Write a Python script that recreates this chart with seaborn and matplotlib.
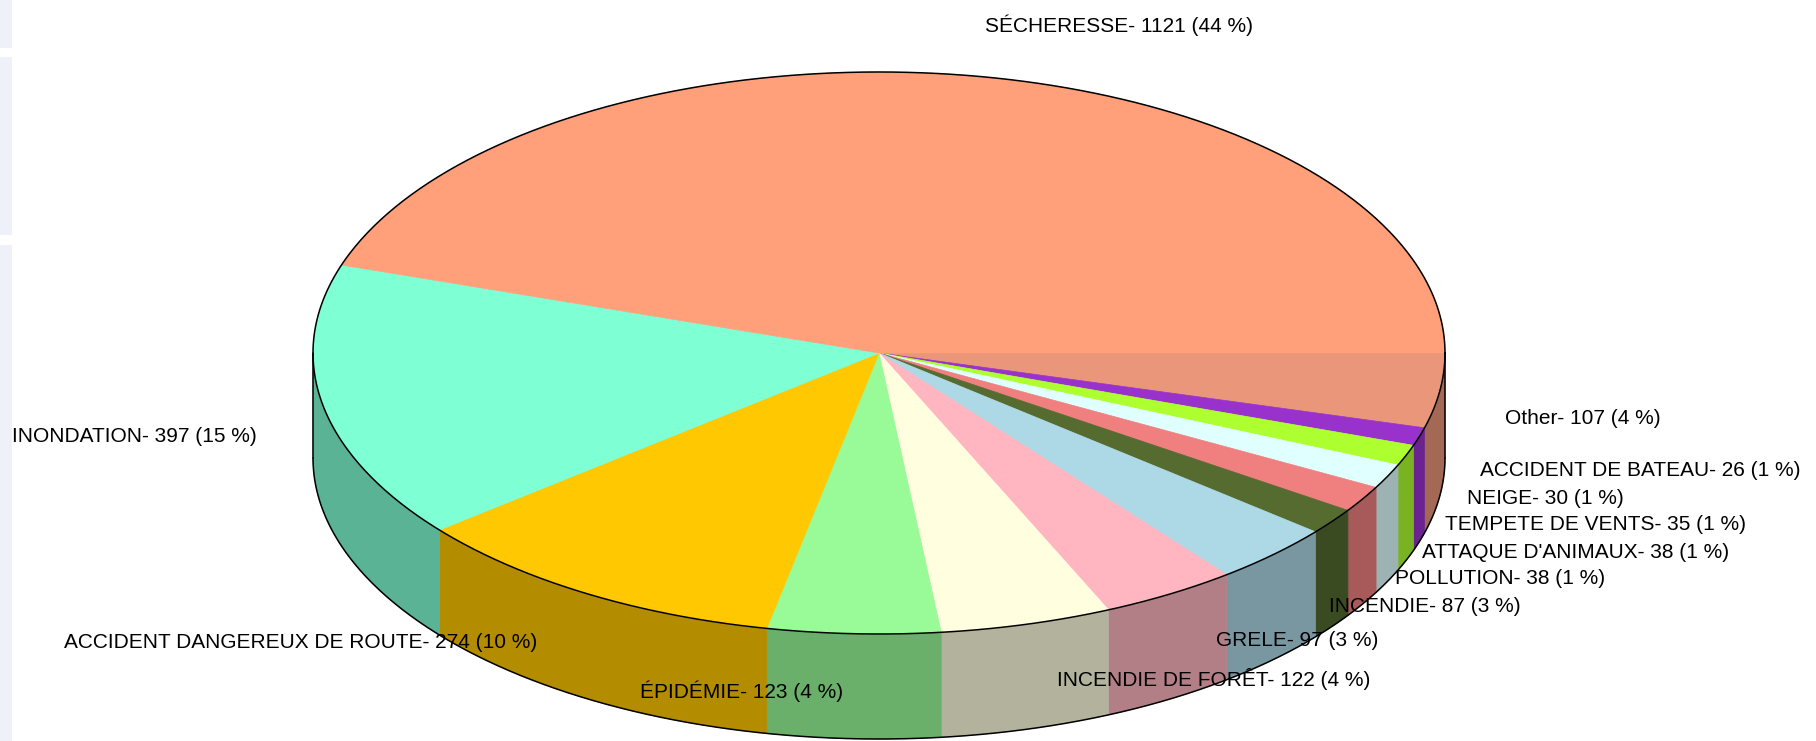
import numpy as np
import matplotlib
matplotlib.use("Agg")
import matplotlib.pyplot as plt
from matplotlib.patches import Polygon, Rectangle
import seaborn as sns

# ---- data ----
categories = ["Other", "ACCIDENT DE BATEAU", "NEIGE", "TEMPETE DE VENTS",
              "ATTAQUE D'ANIMAUX", "POLLUTION", "INCENDIE", "GRELE",
              "INCENDIE DE FORÊT", "ÉPIDÉMIE", "ACCIDENT DANGEREUX DE ROUTE",
              "INONDATION", "SÉCHERESSE"]
values = [107, 26, 30, 35, 38, 38, 87, 97, 122, 123, 274, 397, 1121]
slice_colors = ["#E9967A", "#9932CC", "#ADFF2F", "#E0FFFF", "#F08080", "#556B2F",
                "#ADD8E6", "#FFB6C1", "#FFFFE0", "#98FB98", "#FFC800", "#7FFFD4",
                "#FFA07A"]

# ---- layout (pixels) ----
W, H = 1816, 741
CX, CY, RX, RY, DEPTH = 879, 353, 566, 281, 105
label_pos = [(1505, 419), (1480, 470), (1467, 498), (1445, 525), (1422, 552),
             (1395, 579), (1329, 607), (1216, 641), (1057, 679), (640, 691),
             (64, 643), (12, 437), (985, 25)]

sns.set_theme(style="white")
plt.rcParams["font.family"] = ["Liberation Sans", "DejaVu Sans"]
palette = sns.color_palette(slice_colors)

fig = plt.figure(figsize=(W / 100, H / 100), dpi=100)
fig.patch.set_facecolor("white")
ax = fig.add_axes([0, 0, 1, 1])
ax.set_xlim(0, W)
ax.set_ylim(H, 0)
ax.axis("off")

# left-edge page panels
for y0, y1 in [(0, 48), (57, 235), (245, 741)]:
    ax.add_patch(Rectangle((0, y0), 12, y1 - y0, facecolor="#EEF2F8",
                           edgecolor="none", zorder=0))

total = sum(values)
bounds = np.concatenate([[0], np.cumsum(values)]) / total * 2 * np.pi


def pt(t, dy=0.0):
    return CX + RX * np.cos(t), CY + RY * np.sin(t) + dy


# sides (front half only)
for i, col in enumerate(palette):
    a0, a1 = bounds[i], bounds[i + 1]
    s0, s1 = max(a0, 0), min(a1, np.pi)
    if s1 <= s0:
        continue
    t = np.linspace(s0, s1, 200)
    xs, ys = pt(t)
    xb, yb = pt(t[::-1], DEPTH)
    side = tuple(c * 0.7 for c in col)
    ax.add_patch(Polygon(np.column_stack([np.r_[xs, xb], np.r_[ys, yb]]),
                         closed=True, facecolor=side, edgecolor=side,
                         linewidth=0.5, zorder=1))

# top faces
for i, col in enumerate(palette):
    a0, a1 = bounds[i], bounds[i + 1]
    t = np.linspace(a0, a1, max(int((a1 - a0) * 200), 10))
    xs, ys = pt(t)
    ax.add_patch(Polygon(np.column_stack([np.r_[CX, xs], np.r_[CY, ys]]),
                         closed=True, facecolor=col, edgecolor=col,
                         linewidth=0.5, zorder=2))

# outlines
tt = np.linspace(0, 2 * np.pi, 720)
ax.plot(*pt(tt), color="black", lw=1.1, zorder=3)
tb = np.linspace(0, np.pi, 360)
ax.plot(*pt(tb, DEPTH), color="black", lw=1.1, zorder=3)
ax.plot([CX + RX, CX + RX], [CY, CY + DEPTH], color="black", lw=1.1, zorder=3)
ax.plot([CX - RX, CX - RX], [CY, CY + DEPTH], color="black", lw=1.1, zorder=3)

# labels
for name, v, (lx, ly) in zip(categories, values, label_pos):
    pct = int(v * 100 // total)
    ax.text(lx, ly, f"{name}- {v} ({pct} %)", ha="left", va="center",
            fontsize=15, color="black", zorder=5)

fig.savefig("out.png", dpi=100)
